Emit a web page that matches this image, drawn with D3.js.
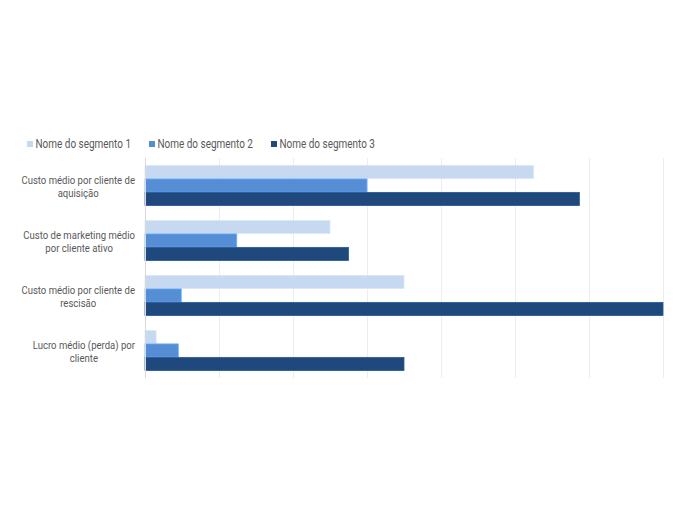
<!DOCTYPE html>
<html>
<head>
<meta charset="UTF-8" />
<title>Custos por segmento</title>
<script src="https://cdn.jsdelivr.net/npm/d3@7/dist/d3.min.js"></script>
<style>
    body { margin: 0; background: #fff; }
    text { font-family: Roboto, 'Liberation Sans', sans-serif; fill: #595959; }
</style>
</head>
<body>
<div id="chart"></div>
<script>
    var categories = [
        ["Custo médio por cliente de", "aquisição"],
        ["Custo de marketing médio", "por cliente ativo"],
        ["Custo médio por cliente de", "rescisão"],
        ["Lucro médio (perda) por", "cliente"]
    ];
    var seriesNames = ["Nome do segmento 1", "Nome do segmento 2", "Nome do segmento 3"];
    var segment1 = [52.5, 25, 35, 1.5];
    var segment2 = [30, 12.4, 4.9, 4.5];
    var segment3 = [58.7, 27.5, 70, 35];
    var xTicks = [0, 10, 20, 30, 40, 50, 60, 70];

    var colors = ["#c6d9f0", "#558ed5", "#1f497d"];
    var allSeries = [segment1, segment2, segment3];

    var w = 675, h = 520;
    var plotLeft = 145, plotRight = 663, plotTop = 158, plotBottom = 378;
    // the original face is a narrow gothic; squeeze Roboto to the same width
    var squeeze = 0.83;

    var svg = d3.select("#chart").append("svg")
        .attr("width", w)
        .attr("height", h);

    var x = d3.scaleLinear().domain([0, 70]).range([plotLeft, plotRight]);

    var y = d3.scaleBand()
        .domain(d3.range(categories.length))
        .range([plotTop, plotBottom])
        .paddingInner(0.27)
        .paddingOuter(0.135);

    var ySub = d3.scaleBand()
        .domain(d3.range(seriesNames.length))
        .range([0, y.bandwidth()])
        .paddingInner(0.02);

    function narrow(t){
        var len = t.node().getComputedTextLength();
        t.attr("textLength", len * squeeze).attr("lengthAdjust", "spacingAndGlyphs");
        return len * squeeze;
    }

    // gridlines
    svg.append("g")
        .attr("transform", "translate(0," + plotBottom + ")")
        .call(d3.axisBottom(x).tickValues(xTicks).tickSize(-(plotBottom - plotTop)).tickFormat(""))
        .call(function(g){
            g.select(".domain").remove();
            g.selectAll(".tick line").attr("stroke", "#ededed").attr("stroke-width", 1);
        });

    // bars
    var groups = svg.selectAll("g.cat")
        .data(categories)
        .enter().append("g")
        .attr("class", "cat")
        .attr("transform", function(d, i){ return "translate(0," + y(i) + ")"; });

    groups.each(function(d, ci){
        var g = d3.select(this);
        allSeries.forEach(function(s, si){
            g.append("rect")
                .attr("x", x(0))
                .attr("y", ySub(si))
                .attr("width", x(s[ci]) - x(0))
                .attr("height", ySub.bandwidth())
                .attr("fill", colors[si])
                .attr("stroke", si === 0 ? "#dce8f6" : d3.color(colors[si]).brighter(0.6))
                .attr("stroke-width", 0.8);
        });
    });

    // vertical axis line
    svg.append("g")
        .attr("transform", "translate(" + plotLeft + ",0)")
        .call(d3.axisLeft(y).tickSize(0).tickFormat(""))
        .call(function(g){
            g.select(".domain").attr("stroke", "#d9d9d9").attr("d", "M0.5," + plotTop + "V" + plotBottom);
        });

    // category labels, lines centred, block right aligned
    var labelRight = 135;
    categories.forEach(function(lines, i){
        var cy = y(i) + y.bandwidth() / 2;
        var texts = lines.map(function(line, li){
            return svg.append("text")
                .attr("font-size", "11.5px")
                .attr("text-anchor", "middle")
                .attr("y", cy + (li - (lines.length - 1) / 2) * 12.5 + 5)
                .text(line);
        });
        var maxW = d3.max(texts.map(narrow));
        texts.forEach(function(t){ t.attr("x", labelRight - maxW / 2); });
    });

    // legend
    var lx = 27;
    seriesNames.forEach(function(name, i){
        svg.append("rect")
            .attr("x", lx)
            .attr("y", 141)
            .attr("width", 6)
            .attr("height", 6)
            .attr("fill", colors[i]);
        var t = svg.append("text")
            .attr("x", lx + 8.5)
            .attr("y", 148)
            .attr("font-size", "12px")
            .text(name);
        lx += 8.5 + narrow(t) + 18;
    });
</script>
</body>
</html>
